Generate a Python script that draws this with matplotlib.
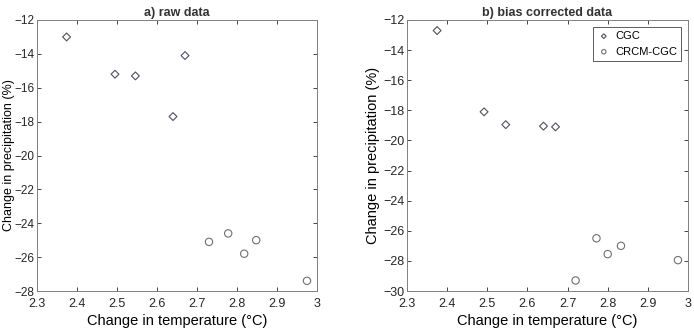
import matplotlib
matplotlib.use("Agg")
import matplotlib.pyplot as plt

plt.rcParams['font.family'] = ['Liberation Sans', 'DejaVu Sans']

# a) raw data
raw_cgc_t = [2.374, 2.495, 2.546, 2.640, 2.670]
raw_cgc_p = [-13.0, -15.2, -15.3, -17.7, -14.1]
raw_crcm_t = [2.730, 2.778, 2.818, 2.848, 2.975]
raw_crcm_p = [-25.1, -24.6, -25.8, -25.0, -27.4]

# b) bias corrected data
bc_cgc_t = [2.375, 2.492, 2.546, 2.640, 2.670]
bc_cgc_p = [-12.7, -18.1, -18.95, -19.05, -19.1]
bc_crcm_t = [2.720, 2.772, 2.800, 2.833, 2.975]
bc_crcm_p = [-29.3, -26.5, -27.55, -27.0, -27.95]

fig = plt.figure(figsize=(6.94, 3.29), dpi=100)
ax1 = fig.add_axes([37/694, 1-291/329, 280/694, 271/329])
ax2 = fig.add_axes([407/694, 1-291/329, 281/694, 271/329])

def style(ax, ylim, yticks, title, ylab_x, ylab_size, ytick_size):
    ax.set_xlim(2.3, 3.0)
    ax.set_ylim(*ylim)
    ax.set_xticks([2.3, 2.4, 2.5, 2.6, 2.7, 2.8, 2.9, 3.0])
    ax.set_xticklabels(['2.3', '2.4', '2.5', '2.6', '2.7', '2.8', '2.9', '3'])
    ax.set_yticks(yticks)
    ax.tick_params(direction='in', top=True, right=True, labelsize=9,
                   length=3, width=0.6, colors='#262626', pad=2)
    ax.tick_params(axis='x', pad=5)
    ax.tick_params(axis='y', labelsize=ytick_size)
    for s in ax.spines.values():
        s.set_color('#808080')
        s.set_linewidth(0.7)
    ax.set_xlabel('Change in temperature (°C)', fontsize=10.5, labelpad=3)
    ax.set_ylabel('Change in precipitation (%)', fontsize=ylab_size)
    ax.yaxis.set_label_coords(ylab_x, 0.5)
    ax.set_title(title, fontsize=9, fontweight='bold', color='#333333', pad=3)

ax1.scatter(raw_cgc_t, raw_cgc_p, marker='D', s=16, facecolors='none',
            edgecolors='#505060', linewidths=0.8, label='CGC')
ax1.scatter(raw_crcm_t, raw_crcm_p, marker='o', s=28, facecolors='none',
            edgecolors='#707070', linewidths=0.8, label='CRCM-CGC')
style(ax1, (-28, -12), range(-28, -11, 2), 'a) raw data', -0.08, 9, 8.5)

ax2.scatter(bc_cgc_t, bc_cgc_p, marker='D', s=16, facecolors='none',
            edgecolors='#505060', linewidths=0.8, label='CGC')
ax2.scatter(bc_crcm_t, bc_crcm_p, marker='o', s=28, facecolors='none',
            edgecolors='#707070', linewidths=0.8, label='CRCM-CGC')
style(ax2, (-30, -12), range(-30, -11, 2), 'b) bias corrected data', -0.096, 10.5, 9)
leg = ax2.legend(loc='upper right', fontsize=8, fancybox=False, markerscale=0.6,
                 handletextpad=0.4, borderpad=0.4, labelspacing=0.5,
                 handlelength=1.2, borderaxespad=0.6)
leg.get_frame().set_edgecolor('#333333')
leg.get_frame().set_linewidth(0.7)

fig.savefig('out.png', dpi=100)
